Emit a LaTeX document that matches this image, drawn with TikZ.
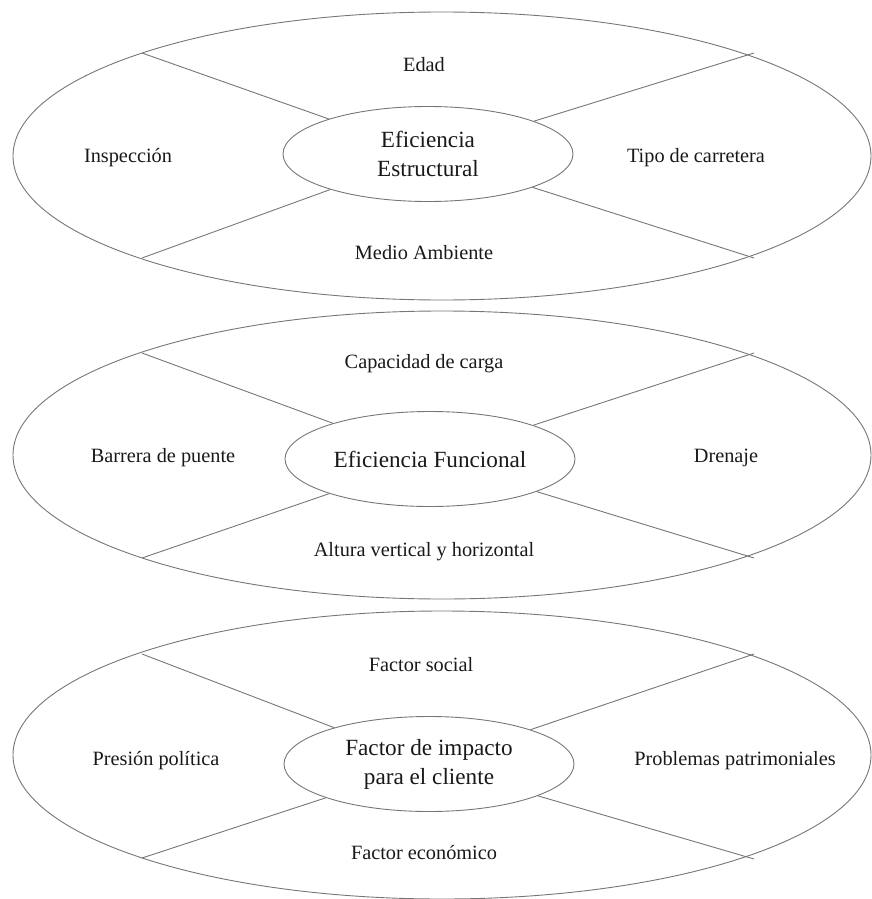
\documentclass[tikz,border=0pt]{standalone}
\usepackage{fontspec}
\setmainfont{Liberation Serif}
\usetikzlibrary{shapes.geometric}
\definecolor{edgegray}{RGB}{118,118,118}
\definecolor{txt}{RGB}{25,25,25}
\tikzset{
  outerring/.style={ellipse, draw=edgegray, line width=0.9pt, minimum width=858pt, minimum height=288pt, inner sep=0pt},
  core/.style={ellipse, draw=edgegray, line width=0.9pt, minimum width=290pt, minimum height=95pt, inner sep=0pt, align=center, text=txt, font=\fontsize{23.2}{29}\selectfont},
  factor/.style={text=txt, font=\fontsize{20.3}{24}\selectfont, inner sep=0pt},
  spoke/.style={draw=edgegray, line width=0.9pt}
}
\begin{document}
\begin{tikzpicture}[x=1pt, y=-1pt]
\useasboundingbox (0,0) rectangle (871,899);

% ---------- Eficiencia Estructural ----------
\node[outerring] (o1) at (442,156) {};
\node[core] (c1) at (428,154) {Eficiencia\\Estructural};
\coordinate (a1) at (142,53);
\coordinate (b1) at (754,53);
\coordinate (d1) at (142,258);
\coordinate (e1) at (754,258);
\draw[spoke] (a1) -- (c1);
\draw[spoke] (b1) -- (c1);
\draw[spoke] (d1) -- (c1);
\draw[spoke] (e1) -- (c1);
\node[factor] (t1) at (424,65) {Edad};
\node[factor] (l1) at (128,158) {Inspección};
\node[factor] (r1) at (696,158) {Tipo de carretera};
\node[factor] (m1) at (424,253) {Medio Ambiente};

% ---------- Eficiencia Funcional ----------
\node[outerring] (o2) at (442,455) {};
\node[core] (c2) at (430,459) {Eficiencia Funcional};
\coordinate (a2) at (142,353);
\coordinate (b2) at (754,353);
\coordinate (d2) at (142,558);
\coordinate (e2) at (754,558);
\draw[spoke] (a2) -- (c2);
\draw[spoke] (b2) -- (c2);
\draw[spoke] (d2) -- (c2);
\draw[spoke] (e2) -- (c2);
\node[factor] (t2) at (424,364) {Capacidad de carga};
\node[factor] (l2) at (163,458) {Barrera de puente};
\node[factor] (r2) at (726,458) {Drenaje};
\node[factor] (m2) at (424,552) {Altura vertical y horizontal};

% ---------- Factor de impacto para el cliente ----------
\node[outerring] (o3) at (442,755) {};
\node[core] (c3) at (429,764) {Factor de impacto\\para el cliente};
\coordinate (a3) at (142,654);
\coordinate (b3) at (754,654);
\coordinate (d3) at (142,858);
\coordinate (e3) at (754,859);
\draw[spoke] (a3) -- (c3);
\draw[spoke] (b3) -- (c3);
\draw[spoke] (d3) -- (c3);
\draw[spoke] (e3) -- (c3);
\node[factor] (t3) at (421,665) {Factor social};
\node[factor] (l3) at (156,761) {Presión política};
\node[factor] (r3) at (735,761) {Problemas patrimoniales};
\node[factor] (m3) at (424,853) {Factor económico};
\end{tikzpicture}
\end{document}
